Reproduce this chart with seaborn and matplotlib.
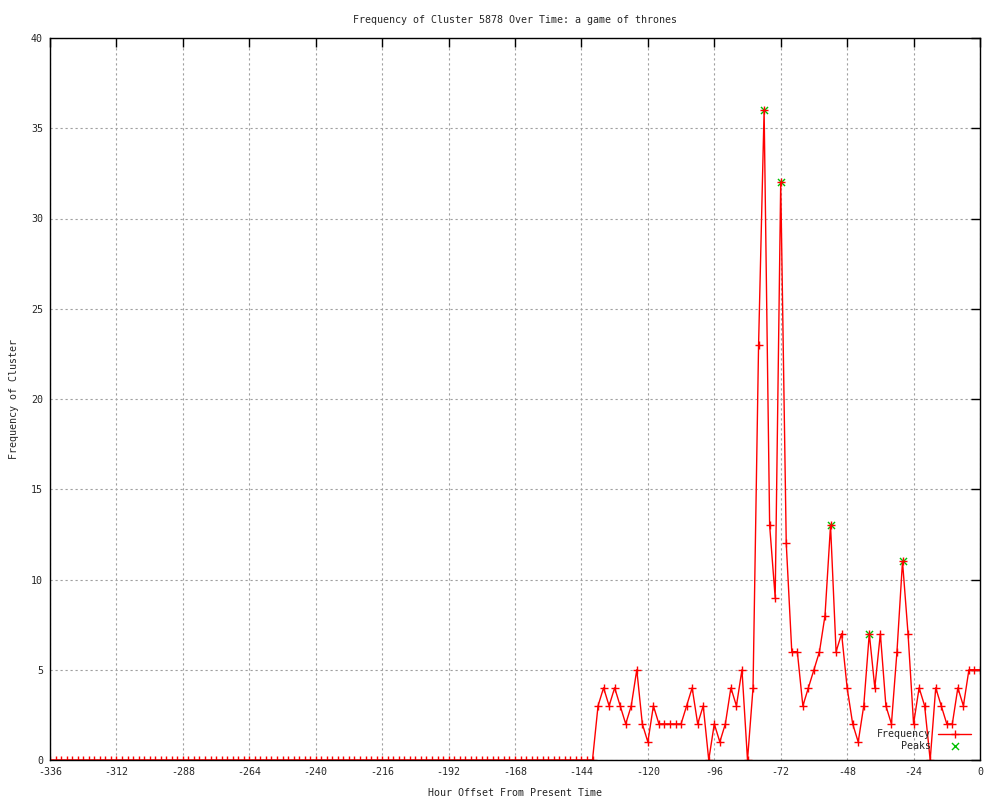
"""Frequency of a cluster over time, gnuplot-like look."""

import matplotlib
matplotlib.use("Agg")
import matplotlib.pyplot as plt
import numpy as np
import pandas as pd
import seaborn as sns

# hours before present, one sample every 2 h
hours = np.arange(-336, 1, 2)
# -336 .. -140 all zero, then -138 .. 0
freq = [0] * 99 + [
    3, 4, 3, 4, 3, 2, 3, 5, 2, 1,
    3, 2, 2, 2, 2, 2, 3, 4, 2, 3,
    0, 2, 1, 2, 4, 3, 5, 0, 4, 23,
    36, 13, 9, 32, 12, 6, 6, 3, 4, 5,
    6, 8, 13, 6, 7, 4, 2, 1, 3, 7,
    4, 7, 3, 2, 6, 11, 7, 2, 4, 3,
    0, 4, 3, 2, 2, 4, 3, 5, 5, 5,
]
peak_hours = [-78, -72, -54, -40, -28]
peak_vals = [36, 32, 13, 7, 11]

title = "Frequency of Cluster 5878 Over Time: a game of thrones"
x_label = "Hour Offset From Present Time"
y_label = "Frequency of Cluster"

df = pd.DataFrame({"hour": hours, "freq": freq})
peaks = pd.DataFrame({"hour": peak_hours, "freq": peak_vals})

sns.set_style("white")
plt.rcParams["font.family"] = ["DejaVu Sans Mono"]
plt.rcParams["axes.unicode_minus"] = False
FS = 7.2
RED = "#ff0000"
GREEN = "#00c000"

fig = plt.figure(figsize=(10, 8), dpi=100)
ax = fig.add_axes([0.05, 0.05, 0.93, 0.9025])

sns.scatterplot(data=peaks, x="hour", y="freq", ax=ax, color=GREEN, marker="x",
                s=26, linewidth=1.0, label="Peaks", zorder=1)
sns.lineplot(data=df, x="hour", y="freq", ax=ax, color=RED, linewidth=1.0,
             marker="+", markersize=6, markeredgewidth=1.0,
             markeredgecolor=RED, markerfacecolor=RED, label="Frequency", zorder=2)

ax.set_xlim(-336, 0)
ax.set_ylim(0, 40)
ax.set_xticks(np.arange(-336, 1, 24))
ax.set_yticks(np.arange(0, 41, 5))
ax.grid(True, color="#a0a0a0", linestyle=(0, (2, 2.5)), linewidth=0.8)
ax.set_axisbelow(True)
for s in ax.spines.values():
    s.set_color("black")
    s.set_linewidth(1.0)
ax.tick_params(axis="both", direction="in", length=6.5, width=1.0, color="black",
               top=True, right=True, labelsize=FS, pad=5)

ax.set_title(title, fontsize=FS, pad=11)
ax.set_xlabel(x_label, fontsize=FS)
ax.set_ylabel(y_label, fontsize=FS)
ax.xaxis.set_label_coords(0.5, -0.039)
ax.yaxis.set_label_coords(-0.033, 0.5)

# Frequency first, Peaks second, as in the original key
handles, labels = ax.get_legend_handles_labels()
order = [labels.index("Frequency"), labels.index("Peaks")]
ax.legend([handles[i] for i in order], [labels[i] for i in order],
          loc="lower right", frameon=False, markerfirst=False, fontsize=FS,
          handlelength=3.3, handletextpad=0.7, labelspacing=0.2,
          borderpad=0.4, borderaxespad=0.5)

fig.savefig("out.png", dpi=100)
